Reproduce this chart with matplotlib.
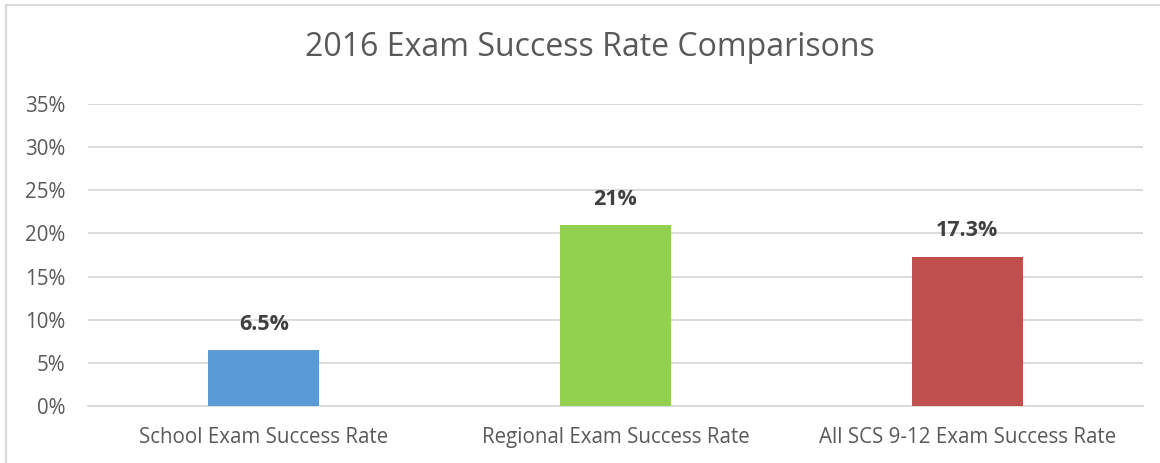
import matplotlib
matplotlib.use("Agg")
import matplotlib.pyplot as plt
from matplotlib.patches import Rectangle

categories = ["School Exam Success Rate", "Regional Exam Success Rate",
              "All SCS 9-12 Exam Success Rate"]
rates = [0.065, 0.21, 0.173]
labels = ["6.5%", "21%", "17.3%"]
colors = ["#5B9BD5", "#92D050", "#C0504D"]
yticks = [0, 0.05, 0.10, 0.15, 0.20, 0.25, 0.30, 0.35]

plt.rcParams["font.family"] = ["Open Sans", "DejaVu Sans"]

W, H = 1160, 463
fig = plt.figure(figsize=(W / 100, H / 100), dpi=100)
ax = fig.add_axes([88 / W, 1 - 406 / H, (1143 - 88) / W, (406 - 104) / H])

x = range(len(categories))
ax.bar(x, rates, width=0.316, color=colors, zorder=3)
for xi, v, lab in zip(x, rates, labels):
    ax.annotate(lab, (xi, v), xytext=(0, 11), textcoords="offset points",
                ha="center", va="bottom", fontsize=15.5, fontweight="bold",
                color="#404040")

ax.set_xlim(-0.5, 2.5)
ax.set_ylim(0, 0.35)
ax.set_yticks(yticks)
ax.set_yticklabels([f"{round(t * 100)}%" for t in yticks])
ax.set_xticks(list(x))
ax.set_xticklabels(categories)
ax.tick_params(axis="y", length=0, pad=16.5, labelsize=14.8, labelcolor="#595959")
ax.tick_params(axis="x", length=0, pad=15, labelsize=14.8, labelcolor="#595959")
ax.grid(axis="y", color="#d9d9d9", linewidth=1.3, zorder=0)
for s in ["top", "right", "left"]:
    ax.spines[s].set_visible(False)
ax.spines["bottom"].set_color("#d9d9d9")
ax.spines["bottom"].set_linewidth(1.3)

fig.text(590 / W, 1 - 48 / H, "2016 Exam Success Rate Comparisons",
         ha="center", va="center", fontsize=23, color="#595959")

fig.patches.append(Rectangle((6 / W, -0.1), 1.2, 1 - 5 / H + 0.1,
                             transform=fig.transFigure, fill=False,
                             edgecolor="#d9d9d9", linewidth=1.5))

fig.savefig("out.png", dpi=100)
